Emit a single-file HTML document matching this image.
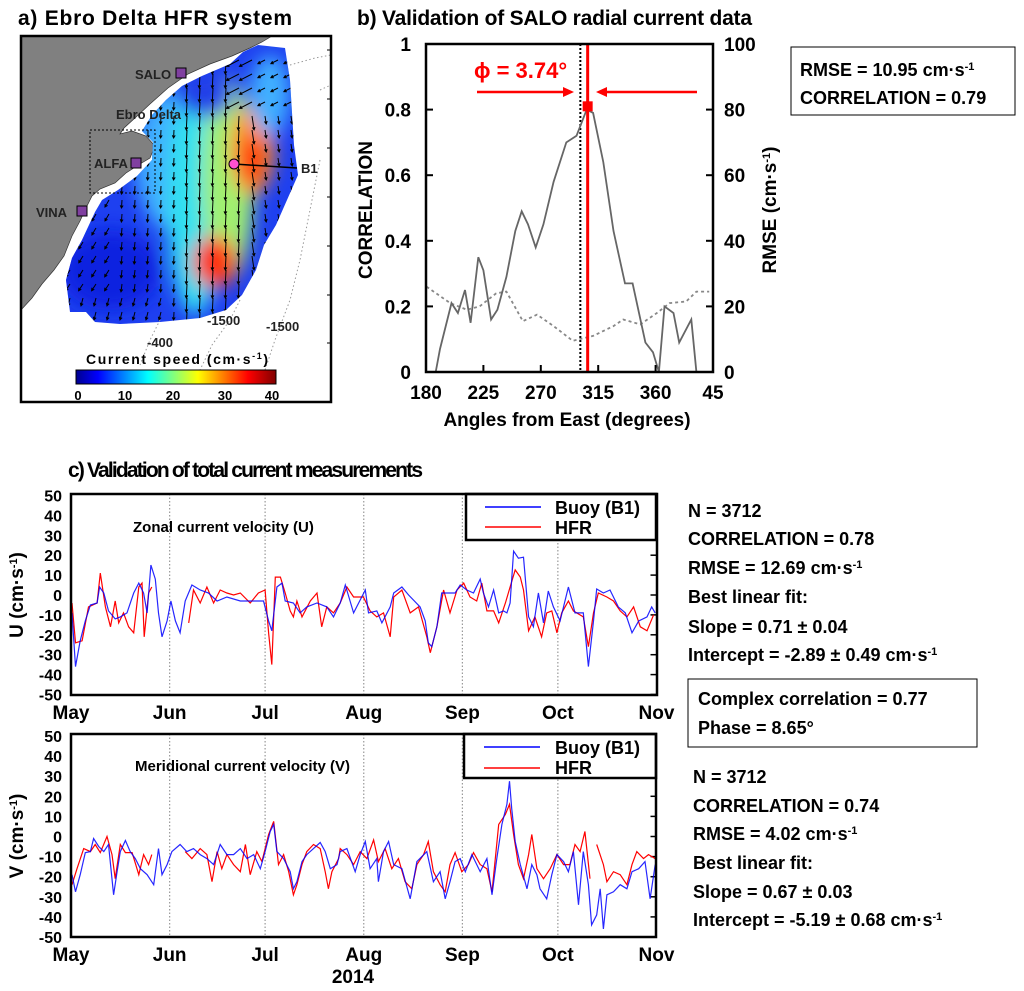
<!DOCTYPE html>
<html><head><meta charset="utf-8">
<style>
html,body{margin:0;padding:0;background:#fff;}
svg{display:block;font-family:"Liberation Sans",sans-serif;font-weight:bold;}
</style></head>
<body>
<svg id="fig" width="1024" height="991" viewBox="0 0 1024 991" xmlns="http://www.w3.org/2000/svg">
<defs>
  <linearGradient id="jet" x1="0" x2="1" y1="0" y2="0">
    <stop offset="0" stop-color="#00008f"/><stop offset="0.11" stop-color="#0000ff"/>
    <stop offset="0.36" stop-color="#00ffff"/><stop offset="0.61" stop-color="#ffff00"/>
    <stop offset="0.86" stop-color="#ff0000"/><stop offset="1" stop-color="#800000"/>
  </linearGradient>
  <filter id="blur" x="-50%" y="-50%" width="200%" height="200%"><feGaussianBlur stdDeviation="9"/></filter>
  <clipPath id="blobClip"><path d="M243,52 L258,45 L285,48 L290,80 L294,145 L298,175 L287,200 L276,225 L264,245 L256,270 L242,295 L226,310 L200,318 L160,322 L120,324 L95,322 L86,312 L70,312 L66,280 L72,258 L82,240 L95,212 L102,200 L118,190 L137,176 L152,160 L153,142 L142,131 L152,115 L166,100 L182,86 L202,76 L230,64 Z"/></clipPath>
  <clipPath id="bClip"><rect x="426" y="44" width="287" height="328"/></clipPath>
  <clipPath id="uClip"><rect x="71" y="494" width="586" height="201"/></clipPath>
  <clipPath id="vClip"><rect x="71" y="734" width="585" height="203"/></clipPath>
</defs>

<!-- Titles -->
<text x="18" y="25" font-size="21" textLength="274">a) Ebro Delta HFR system</text>
<text x="357" y="25" font-size="21" textLength="395">b) Validation of SALO radial current data</text>
<text x="68" y="477" font-size="21" textLength="355">c) Validation of total current measurements</text>

<!-- Panel a map -->
<g id="map">
  <rect x="21" y="36" width="310" height="366" fill="#fff"/>
  <path fill="#808080" stroke="#333" stroke-width="0.7" d="M21,36 L272,36 L262,42 L250,48 L232,56 L210,64 L188,74 L168,88 L150,104 L135,118 L124,128 L120,134 L132,131 L146,136 L155,146 L150,158 L140,164 L126,173 L115,183 L100,189 L92,196 L87,206 L80,221 L72,236 L64,256 L54,270 L42,284 L32,298 L21,310 Z"/>
  <g clip-path="url(#blobClip)">
    <rect x="60" y="40" width="240" height="290" fill="#1e40f0"/>
    <g filter="url(#blur)">
      <ellipse cx="170" cy="160" rx="35" ry="70" fill="#40b0ff"/>
      <ellipse cx="195" cy="200" rx="28" ry="115" fill="#30e0f0"/>
      <ellipse cx="228" cy="180" rx="26" ry="100" fill="#a0f070"/>
      <ellipse cx="252" cy="150" rx="22" ry="45" fill="#ff9020"/>
      <ellipse cx="252" cy="160" rx="11" ry="24" fill="#ff2010"/>
      <ellipse cx="215" cy="262" rx="22" ry="26" fill="#ff3010"/>
      <ellipse cx="270" cy="95" rx="20" ry="40" fill="#40b0ff"/>
      <ellipse cx="110" cy="270" rx="50" ry="40" fill="#1020e0"/>
      <ellipse cx="205" cy="95" rx="28" ry="22" fill="#2040e8"/>
    </g>
    <g id="arrows" stroke="#000" stroke-width="1" fill="none"></g>
  </g>
  <g stroke="#999" stroke-width="1" stroke-dasharray="1.5,2.5" fill="none">
    <path d="M290,65 L315,58 L331,55"/>
    <path d="M320,90 L331,85"/>
    <path d="M240,300 L230,320 L212,345 L200,370"/>
    <path d="M320,160 L312,200 L300,260 L290,300 L275,340 L265,370"/>
    <path d="M160,320 L150,340 L140,365"/>
  </g>
  <rect x="90" y="130" width="65" height="63" fill="none" stroke="#000" stroke-width="1" stroke-dasharray="2,2"/>
  <text x="116" y="119" font-size="13" fill="#222">Ebro Delta</text>
  <rect x="176" y="68" width="10" height="10" fill="#8040a0" stroke="#000"/>
  <text x="135" y="79" font-size="13" fill="#222">SALO</text>
  <rect x="131" y="158" width="10" height="10" fill="#8040a0" stroke="#000"/>
  <text x="94" y="168" font-size="13" fill="#222">ALFA</text>
  <rect x="77" y="206" width="10" height="10" fill="#8040a0" stroke="#000"/>
  <text x="36" y="217" font-size="13" fill="#222">VINA</text>
  <line x1="234" y1="164" x2="297" y2="168" stroke="#000" stroke-width="1.5"/>
  <circle cx="234" cy="164" r="5" fill="#ff50d0" stroke="#000"/>
  <text x="301" y="173" font-size="13" fill="#222">B1</text>
  <text x="207" y="325" font-size="13" fill="#222">-1500</text>
  <text x="266" y="331" font-size="13" fill="#222">-1500</text>
  <text x="147" y="347" font-size="13" fill="#222">-400</text>
  <text x="86" y="364" font-size="14" textLength="182">Current speed (cm·s<tspan dy="-5" font-size="9">-1</tspan><tspan dy="5">)</tspan></text>
  <rect x="76" y="370" width="200" height="14" fill="url(#jet)" stroke="#000" stroke-width="1"/>
  <g font-size="13" text-anchor="middle">
    <text x="78" y="400">0</text><text x="125" y="400">10</text><text x="173" y="400">20</text><text x="225" y="400">30</text><text x="272" y="400">40</text>
  </g>
  <g stroke="#000" stroke-width="1">
    <line x1="327" y1="50" x2="331" y2="50"/><line x1="327" y1="99" x2="331" y2="99"/><line x1="327" y1="148" x2="331" y2="148"/><line x1="327" y1="197" x2="331" y2="197"/><line x1="327" y1="246" x2="331" y2="246"/><line x1="327" y1="295" x2="331" y2="295"/><line x1="327" y1="343" x2="331" y2="343"/>
  </g>
  <rect x="21" y="36" width="310" height="366" fill="none" stroke="#000" stroke-width="2.5"/>
</g>

<!-- Panel b -->
<g id="panelB">
  <g id="bMarks" clip-path="url(#bClip)"></g>
  <rect x="426" y="44" width="287" height="328" fill="none" stroke="#000" stroke-width="2.5"/>
  <g id="bTicks"></g>
  <text transform="translate(372,210) rotate(-90)" font-size="19" text-anchor="middle">CORRELATION</text>
  <text transform="translate(776,210) rotate(-90)" font-size="19" text-anchor="middle">RMSE (cm·s<tspan dy="-6" font-size="11">-1</tspan><tspan dy="6">)</tspan></text>
  <text x="567" y="426" font-size="19" text-anchor="middle">Angles from East (degrees)</text>
  <text x="474" y="78" font-size="22" fill="#f00">ϕ = 3.74°</text>
  <g stroke="#f00" stroke-width="2.5" fill="#f00">
    <line x1="477" y1="92" x2="566" y2="92"/><path d="M574,92 L563,87 L563,97 Z" stroke="none"/>
    <line x1="697" y1="92" x2="604" y2="92"/><path d="M596,92 L607,87 L607,97 Z" stroke="none"/>
  </g>
  <rect x="791" y="47" width="224" height="68" fill="#fff" stroke="#000" stroke-width="1"/>
  <text x="800" y="76" font-size="18">RMSE = 10.95 cm·s<tspan dy="-6" font-size="11">-1</tspan></text>
  <text x="800" y="104" font-size="18">CORRELATION = 0.79</text>
</g>

<!-- Panel c -->
<g id="panelU">
  <g id="uGrid"></g>
  <g id="uMarks" clip-path="url(#uClip)"></g>
  <text x="133" y="532" font-size="15">Zonal current velocity (U)</text>
  <rect x="466" y="494" width="190" height="46" fill="#fff" stroke="#000" stroke-width="2.5"/>
  <line x1="485" y1="507" x2="541" y2="507" stroke="#00f" stroke-width="1.5"/>
  <text x="555" y="514" font-size="18">Buoy (B1)</text>
  <line x1="485" y1="527" x2="541" y2="527" stroke="#f00" stroke-width="1.5"/>
  <text x="555" y="534" font-size="18">HFR</text>
  <rect x="71" y="494" width="586" height="201" fill="none" stroke="#000" stroke-width="2.5"/>
  <text transform="translate(23,595) rotate(-90)" font-size="19" text-anchor="middle">U (cm·s<tspan dy="-6" font-size="11">-1</tspan><tspan dy="6">)</tspan></text>
</g>
<g id="panelV">
  <g id="vGrid"></g>
  <g id="vMarks" clip-path="url(#vClip)"></g>
  <text x="135" y="771" font-size="15">Meridional current velocity (V)</text>
  <rect x="464" y="734" width="192" height="44" fill="#fff" stroke="#000" stroke-width="2.5"/>
  <line x1="484" y1="747" x2="540" y2="747" stroke="#00f" stroke-width="1.5"/>
  <text x="555" y="754" font-size="18">Buoy (B1)</text>
  <line x1="484" y1="768" x2="540" y2="768" stroke="#f00" stroke-width="1.5"/>
  <text x="555" y="774" font-size="18">HFR</text>
  <rect x="71" y="734" width="585" height="203" fill="none" stroke="#000" stroke-width="2.5"/>
  <text transform="translate(23,836) rotate(-90)" font-size="19" text-anchor="middle">V (cm·s<tspan dy="-6" font-size="11">-1</tspan><tspan dy="6">)</tspan></text>
  <text x="353" y="983" font-size="19" text-anchor="middle">2014</text>
</g>

<!-- Stats text -->
<g font-size="18">
  <text x="688" y="517">N = 3712</text>
  <text x="688" y="545">CORRELATION = 0.78</text>
  <text x="688" y="574">RMSE = 12.69 cm·s<tspan dy="-6" font-size="11">-1</tspan></text>
  <text x="688" y="603">Best linear fit:</text>
  <text x="688" y="633">Slope = 0.71 ± 0.04</text>
  <text x="688" y="661">Intercept = -2.89 ± 0.49 cm·s<tspan dy="-6" font-size="11">-1</tspan></text>
</g>
<rect x="688" y="679" width="289" height="68" fill="none" stroke="#000" stroke-width="1"/>
<text x="698" y="705" font-size="18">Complex correlation = 0.77</text>
<text x="698" y="734" font-size="18">Phase = 8.65°</text>
<g font-size="18">
  <text x="693" y="783">N = 3712</text>
  <text x="693" y="812">CORRELATION = 0.74</text>
  <text x="693" y="840">RMSE = 4.02 cm·s<tspan dy="-6" font-size="11">-1</tspan></text>
  <text x="693" y="869">Best linear fit:</text>
  <text x="693" y="898">Slope = 0.67 ± 0.03</text>
  <text x="693" y="926">Intercept = -5.19 ± 0.68 cm·s<tspan dy="-6" font-size="11">-1</tspan></text>
</g>
</svg>

<script>
// ---------- Panel b data ----------
const corrAngles = [187.6,191,200,205,210.6,215,221,225,231,236,243,250,255,260,266,272,280,290,298,306,311,319,327,336,342,352,358,362.6,367,374,378.5,388,392];
const corrValues = [0,0.07,0.21,0.18,0.25,0.15,0.35,0.31,0.16,0.19,0.29,0.43,0.49,0.45,0.38,0.45,0.58,0.70,0.72,0.80,0.79,0.64,0.43,0.27,0.27,0.09,0.06,0,0.20,0.18,0.09,0.16,0];
const rmseAngles = [180.5,199,212,222,235,243,256,267,280,295,311,327,334.6,348,361,371,384,392,402];
const rmseValues = [26,21,19,20,24,24.5,15.5,17.5,14,9.5,11,14,16,14.5,18,21,21.5,24.5,24.5];
const angleTicks = [180,225,270,315,360,405];
const angleTickLabels = ["180","225","270","315","360","45"];
const corrTicks = [0,0.2,0.4,0.6,0.8,1];
const corrTickLabels = ["0","0.2","0.4","0.6","0.8","1"];
const rmseTicks = [0,20,40,60,80,100];
const bestAngle = 301;
const phaseOffset = 3.74;
const peakCorr = 0.81;

// ---------- Panel c data ----------
const monthDays = [0,31,61,92,123,153,184];
const monthLabels = ["May","Jun","Jul","Aug","Sep","Oct","Nov"];
const velTicks = [-50,-40,-30,-20,-10,0,10,20,30,40,50];
const buoyUDays = [0.3,1.4,2.9,4.5,6.1,8.2,9,10.3,11.8,13.9,15.5,17.6,19.7,21.3,22.8,23.9,25.1,26.5,27.5,28.6,30.2,31.4,32.8,34.3,35.9,38,40.6,43.2,45.9,49,53.2,57.4,60.5,62.1,63.1,64.7,66.3,67.3,69.9,72,74.1,77.3,80.4,82.5,84.6,86.2,88.8,92.5,93.5,96.1,97.7,100.3,101.4,104,106.1,109.7,111.3,112.3,113.4,115,116.5,118.6,120.7,122.3,124.4,126.5,128.6,129.6,131.2,132.8,134.4,135.9,137,138,139.1,140.6,142.2,143.8,145.3,146.9,148.5,150,151.6,153.7,156.3,158.4,161,162.6,164.2,165.2,167.3,169.4,172,174.2,176.3,178.4,181,182.5,183.6];
const buoyU = [-9,-36,-23,-13,-5,-4,4,1,-8,-12,-11,-9,1,6,1,-9,15,8,-9,-21,-13,-3,-13,-19,-3,5,2.5,1,-3,-1,-3,-3,-3,-13,-18,4,6,-3,-4,-9,-6,-4,-6,-11,-4,5,-9,2.5,-9,-8,-14,-6,1,4,0,-6,-13,-24,-26,-16,1,1,1,5,2.5,1,8,1,-6,2.5,-9,-8,-9,-4,22,18.5,19,-11,-16,1,-14,2,-6,-13,4,-9,-9,-36,-13,3,1,2.5,-6,-9,-19,-13,-11,-6,-9];
const hfrUDays = [0.3,1.4,3.5,5.5,8.2,9.2,10.8,12.4,13.9,15,16.5,18.1,19.7,21.3,22.3,23,24.4,25.4,31,37,38.5,40.6,42.7,44.8,46.9,49,51.1,53.2,56.3,58.9,61,62.1,63.1,64.2,65.8,67.3,68.9,69.9,71,72.6,75.2,77.3,78.8,80.4,82.5,84.6,86.7,88.8,91.9,94,96.1,98.2,100.3,101.4,104,106.6,109.2,111.8,112.9,115,117.1,119.1,121.3,123.4,125.4,127.5,129.1,130.7,132.8,134.4,136.5,138,139.6,141.2,142.2,143.8,145.8,147.9,149.5,151.1,152.7,154.2,156.3,157.9,161,162.6,164.2,165.7,168.4,170.5,172.6,174.7,176.8,178.9,181,183.1];
const hfrU = [-4,-24,-23,-6,-4,11,-6,-16,-3,-14,-9,-16,-19,4,6,-21,1,4,null,-14,2.5,-4,4,-4,2.5,1,0,1,-4,1,2.5,-19,-35,9,9,1,-8,-11,-3,-11,-3,1,-16,-6,-9,-4,4,-1,-1,-8,-11,-9,-21,-1,2.5,-9,-6,-21,-29,-16,2.5,-9,2.5,6,-1,-3,6,-8,-8,-14,-4,4,12.6,9,2.5,-18,-11,-21,-9,-8,-19,-9,-3,-8,-11,-26,-9,1,-1,-3,-8,-11,-6,-16,-18,-10];
const buoyVDays = [0.3,1.4,2.9,4.5,6.1,7.1,8.7,10.3,11.8,13.4,14.5,15.5,17.1,18.6,20.2,21.8,23.9,26,27.5,28.6,30.2,31.7,34.3,36.4,38.5,40.6,42.7,44.8,46.9,49,51.1,53.2,55.3,57.4,59.5,61,62.6,63.7,64.7,66.8,68.9,69.9,71,72.6,74.1,76.2,78.3,79.9,81.5,83.6,84.6,86.7,89.3,90.9,92.5,94,96.1,96.6,98.2,99.8,101.4,104,106.6,108.7,111.8,113.9,116,117.6,119.1,120.7,122.3,123.9,126,128.6,130.7,132.3,133.8,135.4,137,137.8,138.5,139.6,141.2,143.3,144.8,146.4,147.4,149.5,151.1,152.7,154.8,156.3,157.9,159.5,161,162.6,163.6,165.2,166.3,167.3,168.4,170.5,172.6,174.7,176.3,178.4,180.4,182,183.6];
const buoyV = [-19,-27.5,-19,-8,-7.5,-1,-5,-7.5,-4,-29,-17.5,-7.5,-2,-7.5,-11,-16,-19,-24,-6,-19,-14,-7.5,-4,-7.5,-6,-9,-11,-14,-4,-9,-9,-6,-11,-9,-16,-7.5,2.5,6,-7.5,-11,-17.5,-26,-22.5,-12.5,-9,-6,-3,-7.5,-16,-14,-7.5,-6,-17.5,-9,-2.5,-16,-11,-22.5,-7.5,-2.5,-14,-16,-31,-12.5,-7.5,-22.5,-17.5,-31,-22.5,-12.5,-11,-17.5,-9,-17.5,-11,-29,-11,6,16,27.5,14,-2.5,-14,-26,-14,-19,-26,-31,-19,-9,-12.5,-17.5,-7.5,-34,-7.5,-24,-44,-39,-26,-46,-29,-27.5,-24,-26,-17.5,-16,-12.5,-31,-14];
const hfrVDays = [0.3,1.9,4,6.1,7.6,9.2,11.3,12.9,13.9,15.5,17.1,19.2,21.3,22.8,24.4,25.4,30,35.9,38,40.6,42.7,44.3,45.9,47.4,49,51.1,53.2,54.8,56.3,58.4,60,62.1,63.7,65.2,66.8,68.4,69.9,71,72.6,74.1,76.2,78.3,79.9,80.9,82,84.1,84.6,86.7,88.8,90.9,93,95.1,96.6,98.7,100.8,102.9,105,107.1,108.7,110.8,112.3,113.9,116,117.6,119.1,120.7,122.8,124.9,126.5,128.6,130.7,132.3,134.4,136.5,137.8,139.1,140.6,142.2,143.8,144.8,146.4,148.5,150.6,152.7,154.8,156.8,158.4,160,161.5,163.1,164.2,165.2,167.3,168.4,170.5,172.6,174.7,176.3,177.8,179.9,181.5,183.6];
const hfrV = [-24,-16,-6,-7.5,-4,-8,0,-9,-21,-4,-8,-8,-19,-9,-14,-9,null,-7.5,-11,-6,-9,-22.5,-7.5,-16,-9,-14,-17.5,-4,-19,-7.5,-12.5,1,7.5,-14,-9,-17.5,-29,-24,-14,-7.5,-4,-6,-17.5,-26,-17.5,-11,-6,-9,-14,-7.5,-11,-1.7,-12.5,-6,-16,-11,-22.5,-26,-14,-9,-2.5,-17.5,-24,-27.5,-14,-8,-17.5,-14,-8,-14,-16,-27.5,6,11,16,1,-14,-21,-9,1,-16,-21,-16,-9,-14,-14,-4,-7.5,2.5,-21,null,-4,-14,-22.5,-17.5,-19,-24,-14,-7.5,-11,-9,-11];

const NS = "http://www.w3.org/2000/svg";
function mk(tag, attrs, parent){ const e=document.createElementNS(NS,tag); for(const k in attrs) e.setAttribute(k,attrs[k]); parent.appendChild(e); return e; }

// ---------- Panel b ----------
const bX0=426,bX1=713,bY0=44,bY1=372;
function xb(a){ return bX0 + (a-180)*(bX1-bX0)/225; }
function yb(c){ return bY1 - c*(bY1-bY0); }
function yr(r){ return bY1 - r/100*(bY1-bY0); }
function pathFrom(xs, ys, fx, fy){
  let d="", pen=false;
  for(let i=0;i<xs.length;i++){
    if(ys[i]===null||ys[i]===undefined){pen=false;continue;}
    d += (pen?"L":"M") + fx(xs[i]).toFixed(1)+","+fy(ys[i]).toFixed(1)+" ";
    pen=true;
  }
  return d;
}
const bMarks=document.getElementById("bMarks");
const bestLine = mk("line",{x1:xb(bestAngle),x2:xb(bestAngle),y1:bY0,y2:bY1,stroke:"#000","stroke-width":2,"stroke-dasharray":"2,2"},bMarks);


const rm = mk("path",{d:pathFrom(rmseAngles,rmseValues,xb,yr),fill:"none",stroke:"#888","stroke-width":1.8,"stroke-dasharray":"3,3"},bMarks);


const cr = mk("path",{d:pathFrom(corrAngles,corrValues,xb,yb),fill:"none",stroke:"#666","stroke-width":1.8},bMarks);


const redLine = mk("line",{x1:xb(bestAngle+phaseOffset+2),x2:xb(bestAngle+phaseOffset+2),y1:bY0,y2:bY1,stroke:"#f00","stroke-width":3},bMarks);


const pk = mk("rect",{x:xb(bestAngle+phaseOffset+2)-5,y:yb(peakCorr)-5,width:10,height:10,fill:"#f00"},bMarks);


const bT=document.getElementById("bTicks");
angleTicks.forEach((a,i)=>{
  mk("line",{x1:xb(a),x2:xb(a),y1:bY1,y2:bY1-7,stroke:"#000","stroke-width":2},bT);
  const t=mk("text",{x:xb(a),y:399,"font-size":19,"text-anchor":"middle"},bT); t.textContent=angleTickLabels[i];
  
  
});
corrTicks.forEach((c,i)=>{
  mk("line",{x1:bX0,x2:bX0+7,y1:yb(c),y2:yb(c),stroke:"#000","stroke-width":2},bT);
  mk("line",{x1:bX1,x2:bX1-7,y1:yb(c),y2:yb(c),stroke:"#000","stroke-width":2},bT);
  const t=mk("text",{x:411,y:yb(c)+7,"font-size":19,"text-anchor":"end"},bT); t.textContent=corrTickLabels[i];
  
  
});
rmseTicks.forEach(r=>{
  const t=mk("text",{x:724,y:yr(r)+7,"font-size":19},bT); t.textContent=String(r);
  
  
});

// ---------- Panel c ----------
const tX0=71,tX1=656.5;
function xt(d){ return tX0 + d*(tX1-tX0)/184; }
function yu(v){ return 595 - v*1.99; }
function yv(v){ return 836.5 - v*2.01; }
function drawTS(gridId, marksId, fy, yTop, yBot, buoyDays, buoyVals, hfrDays, hfrVals, monthY, pre){
  const g=document.getElementById(gridId), m=document.getElementById(marksId);
  monthDays.forEach((d,i)=>{
    if(i>0&&i<monthDays.length-1) mk("line",{x1:xt(d),x2:xt(d),y1:yTop,y2:yBot,stroke:"#999","stroke-width":1.2,"stroke-dasharray":"1.5,2"},g);
    const t=mk("text",{x:xt(d),y:monthY,"font-size":19,"text-anchor":"middle"},g); t.textContent=monthLabels[i];
    
    
  });
  velTicks.forEach(v=>{
    mk("line",{x1:tX1,x2:tX1-6,y1:fy(v),y2:fy(v),stroke:"#000","stroke-width":1.5},g);
    const t=mk("text",{x:62,y:fy(v)+6,"font-size":16,"text-anchor":"end"},g); t.textContent=String(v);
    
    
  });
  const h=mk("path",{d:pathFrom(hfrDays,hfrVals,xt,fy),fill:"none",stroke:"#f00","stroke-width":1.2},m);
  
  
  const b=mk("path",{d:pathFrom(buoyDays,buoyVals,xt,fy),fill:"none",stroke:"#00f","stroke-width":1.2,"stroke-opacity":0.85},m);
  
  
}
drawTS("uGrid","uMarks",yu,494,695,buoyUDays,buoyU,hfrUDays,hfrU,719,"u");
drawTS("vGrid","vMarks",yv,734,937,buoyVDays,buoyV,hfrVDays,hfrV,961,"v");

// ---------- Map arrows (decorative vector field) ----------
const arrowG=document.getElementById("arrows");
for(let y=60;y<=320;y+=14){
  for(let x=70;x<=295;x+=13){
    const lat=(y-60)/260;
    let ang = Math.PI/2 + (x<150? 0.9*(1-lat)*-0.2 + (x<120?0.6:0.15) : (x>240? -0.15:0.05));
    if(y>290 && x<170) ang=Math.PI/2+0.25;
    if(y<110 && x>230) ang=Math.PI*0.85;
    const len = 8 + ((x>180&&x<265)?6:0);
    const x2=x+Math.cos(ang)*len, y2=y+Math.sin(ang)*len;
    const a=mk("path",{d:`M${x.toFixed(1)},${y.toFixed(1)} L${x2.toFixed(1)},${y2.toFixed(1)} M${(x2-Math.cos(ang-0.5)*3).toFixed(1)},${(y2-Math.sin(ang-0.5)*3).toFixed(1)} L${x2.toFixed(1)},${y2.toFixed(1)} L${(x2-Math.cos(ang+0.5)*3).toFixed(1)},${(y2-Math.sin(ang+0.5)*3).toFixed(1)}`},arrowG);
    
    
  }
}
</script>
</body></html>
